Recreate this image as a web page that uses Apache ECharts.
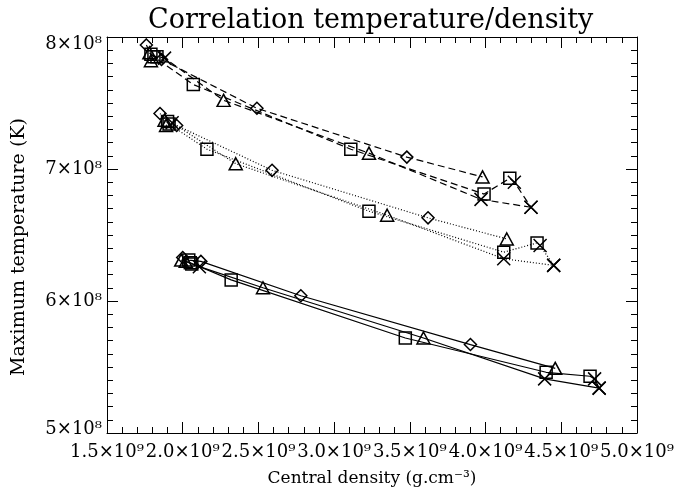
<!DOCTYPE html>
<html>
<head>
<meta charset="utf-8">
<script src="https://cdn.jsdelivr.net/npm/echarts@6/dist/echarts.min.js"></script>
<style>html,body{margin:0;padding:0;background:#fff}#c{width:676px;height:489px}</style>
</head>
<body>
<div id="c"></div>
<script>
// x: central density in 1e9 g/cm3, y: max temperature in 1e8 K, symbol per point
const xTickValues = [1.5, 2.0, 2.5, 3.0, 3.5, 4.0, 4.5, 5.0];
const xTickLabels = ['1.5×10⁹','2.0×10⁹','2.5×10⁹','3.0×10⁹','3.5×10⁹','4.0×10⁹','4.5×10⁹','5.0×10⁹'];
const yTickValues = [5, 6, 7, 8];
const yTickLabels = ['5×10⁸','6×10⁸','7×10⁸','8×10⁸'];

// dashed group
const dashed1 = [[1.76,7.94,'diamond'],[1.79,7.87,'square'],[1.86,7.83,'diamond'],[2.49,7.46,'diamond'],[3.48,7.09,'diamond'],[3.98,6.94,'triangle']];
const dashed2 = [[1.78,7.88,'triangle'],[1.81,7.85,'square'],[2.07,7.64,'square'],[3.11,7.15,'square'],[3.99,6.81,'square'],[4.16,6.93,'square'],[4.19,6.90,'cross'],[4.30,6.71,'cross']];
const dashed3 = [[1.79,7.82,'triangle'],[1.83,7.85,'square'],[1.88,7.84,'cross'],[2.27,7.52,'triangle'],[3.23,7.12,'triangle'],[3.97,6.77,'cross'],[4.30,6.71,'cross']];
// dotted group
const dotted1 = [[1.85,7.42,'diamond'],[1.90,7.36,'square'],[1.96,7.33,'diamond'],[2.59,6.99,'diamond'],[3.62,6.63,'diamond'],[4.14,6.47,'triangle']];
const dotted2 = [[1.88,7.37,'triangle'],[1.91,7.34,'square'],[2.16,7.15,'square'],[3.23,6.68,'square'],[4.12,6.37,'square'],[4.34,6.44,'square'],[4.36,6.42,'cross'],[4.45,6.27,'cross']];
const dotted3 = [[1.89,7.33,'triangle'],[1.93,7.35,'cross'],[2.35,7.04,'triangle'],[3.35,6.65,'triangle'],[4.12,6.32,'cross'],[4.45,6.27,'cross']];
// solid group
const solid1 = [[2.00,6.33,'diamond'],[2.04,6.31,'square'],[2.12,6.30,'diamond'],[2.78,6.04,'diamond'],[3.90,5.67,'diamond'],[4.46,5.49,'triangle']];
const solid2 = [[1.99,6.31,'triangle'],[2.05,6.29,'square'],[2.32,6.16,'square'],[3.47,5.72,'square'],[4.40,5.46,'square'],[4.69,5.43,'square'],[4.72,5.41,'cross'],[4.75,5.34,'cross']];
const solid3 = [[2.02,6.30,'triangle'],[2.06,6.28,'square'],[2.11,6.26,'cross'],[2.53,6.10,'triangle'],[3.59,5.72,'triangle'],[4.39,5.41,'cross'],[4.75,5.34,'cross']];

const lines = [
  {data: dashed1, type: 'dashed'}, {data: dashed2, type: 'dashed'}, {data: dashed3, type: 'dashed'},
  {data: dotted1, type: 'dotted'}, {data: dotted2, type: 'dotted'}, {data: dotted3, type: 'dotted'},
  {data: solid1, type: 'solid'}, {data: solid2, type: 'solid'}, {data: solid3, type: 'solid'}
];

const SYM = {
  diamond: {symbol: 'path://M5,0L10,5L5,10L0,5Z', size: [12, 12]},
  triangle: {symbol: 'path://M5,0L10,9L0,9Z', size: [13, 12]},
  square: {symbol: 'path://M0,0L10,0L10,10L0,10Z', size: [12, 12]},
  cross: {symbol: 'path://M0,0L10,10M10,0L0,10', size: [13, 13]},
  none: {symbol: 'none', size: 0}
};
const DASH = {dashed: [7, 4], dotted: [1, 2], solid: 'solid'};

const FONT = 'DejaVu Serif';

function lab(values, labels, rich) {
  return v => {
    const i = values.findIndex(t => Math.abs(t - v) < 1e-6);
    if (i < 0) return '';
    if (!rich) return labels[i];
    if (i === 0) return '{lo|' + labels[i] + '}';
    if (i === values.length - 1) return '{hi|' + labels[i] + '}';
    return '{n|' + labels[i] + '}';
  };
}

const axisCommon = {
  type: 'value',
  axisLine: {show: true, lineStyle: {color: '#000', width: 1}},
  splitLine: {show: false},
  axisTick: {show: true, inside: true, length: 11, lineStyle: {color: '#000', width: 1}},
  minorTick: {show: true, length: 6, lineStyle: {color: '#000', width: 1}},
};

const series = lines.map(l => ({
  type: 'line',
  xAxisIndex: 0, yAxisIndex: 0,
  showAllSymbol: true,
  animation: false,
  lineStyle: {color: '#000', width: 1.2, type: DASH[l.type]},
  itemStyle: {color: 'rgba(0,0,0,0)', borderColor: '#000', borderWidth: 1.5},
  emphasis: {disabled: true},
  data: l.data.map(p => ({
    value: [p[0], p[1]],
    symbol: SYM[p[2]].symbol,
    symbolSize: SYM[p[2]].size
  }))
}));

const yRich = {
  n: {fontFamily: FONT, fontSize: 18, color: '#000'},
  lo: {fontFamily: FONT, fontSize: 18, color: '#000', padding: [0, 0, 8, 0]},
  hi: {fontFamily: FONT, fontSize: 18, color: '#000', padding: [14, 0, 0, 0]}
};

const chart = echarts.init(document.getElementById('c'), null, {renderer: 'canvas'});
chart.setOption({
  animation: false,
  backgroundColor: '#fff',
  title: {
    text: 'Correlation temperature/density',
    left: 143, top: 2,
    textStyle: {fontFamily: FONT, fontSize: 27, fontWeight: 'normal', color: '#000'}
  },
  grid: {left: 107, right: 39, top: 37, bottom: 56, containLabel: false, outerBoundsMode: 'none'},
  xAxis: [
    Object.assign({}, axisCommon, {
      position: 'bottom', min: 1.5, max: 5.0, interval: 0.5,
      minorTick: Object.assign({}, axisCommon.minorTick, {splitNumber: 5}),
      axisLabel: {show: true, margin: 10, color: '#000', fontFamily: FONT, fontSize: 18, formatter: lab(xTickValues, xTickLabels, false)},
      name: 'Central density (g.cm⁻³)', nameLocation: 'middle', nameGap: 37,
      nameTextStyle: {fontFamily: FONT, fontSize: 17, color: '#000'}
    }),
    Object.assign({}, axisCommon, {
      position: 'top', min: 1.5, max: 5.0, interval: 0.5,
      minorTick: Object.assign({}, axisCommon.minorTick, {splitNumber: 5}),
      axisLabel: {show: false}
    })
  ],
  yAxis: [
    Object.assign({}, axisCommon, {
      position: 'left', min: 5, max: 8, interval: 1,
      minorTick: Object.assign({}, axisCommon.minorTick, {splitNumber: 10}),
      axisLabel: {show: true, margin: 5, color: '#000', fontFamily: FONT, fontSize: 18, formatter: lab(yTickValues, yTickLabels, true), rich: yRich},
      name: 'Maximum temperature (K)', nameLocation: 'middle', nameGap: 78, nameRotate: 90,
      nameTextStyle: {fontFamily: FONT, fontSize: 19, color: '#000', padding: [0, 24, 0, 0]}
    }),
    Object.assign({}, axisCommon, {
      position: 'right', min: 5, max: 8, interval: 1,
      minorTick: Object.assign({}, axisCommon.minorTick, {splitNumber: 10}),
      axisLabel: {show: false}
    })
  ],
  series: series
});
</script>
</body>
</html>
